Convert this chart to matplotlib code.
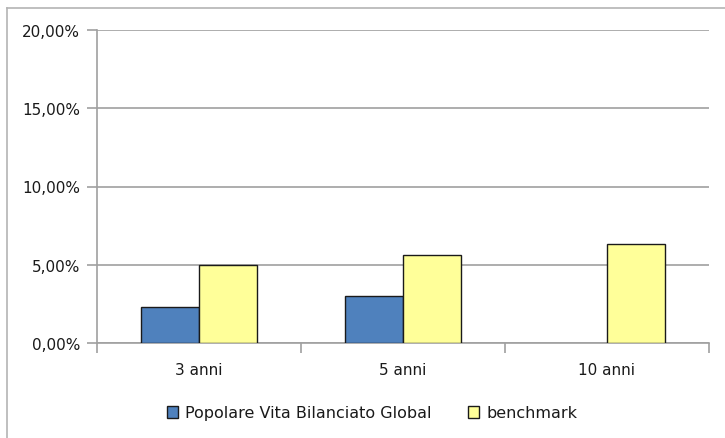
import matplotlib
matplotlib.use("Agg")
import matplotlib.pyplot as plt
from matplotlib.lines import Line2D
from matplotlib.ticker import FuncFormatter, MultipleLocator
import numpy as np

categories = ["3 anni", "5 anni", "10 anni"]
fund_name = "Popolare Vita Bilanciato Global"
bench_name = "benchmark"
fund_values = [2.30, 2.98, None]
bench_values = [4.98, 5.60, 6.35]

W, H = 725, 439
fig = plt.figure(figsize=(W / 100, H / 100), dpi=100)
ax = fig.add_axes([97 / W, 1 - 344 / H, (709 - 97) / W, (344 - 31) / H])

# figure outer border (top & left visible only)
fig.lines.append(Line2D([7 / W, 1.05], [1 - 9 / H, 1 - 9 / H], transform=fig.transFigure,
                        color="#b4b4b4", linewidth=1.2))
fig.lines.append(Line2D([7 / W, 7 / W], [-0.05, 1 - 9 / H], transform=fig.transFigure,
                        color="#b4b4b4", linewidth=1.2))

x = np.arange(len(categories))
width = 1 / 3.5
fv = [np.nan if v is None else v for v in fund_values]
ax.bar(x - width / 2, fv, width, color="#4F81BD", edgecolor="#1a1a1a",
       linewidth=1.0, label=fund_name, zorder=3)
ax.bar(x + width / 2, bench_values, width, color="#FFFF99", edgecolor="#1a1a1a",
       linewidth=1.0, label=bench_name, zorder=3)

ax.set_xlim(-0.5, 2.5)
ax.set_ylim(0, 20)
ax.yaxis.set_major_locator(MultipleLocator(5))
ax.yaxis.set_major_formatter(FuncFormatter(lambda v, p: f"{v:.2f}%".replace(".", ",")))
ax.set_xticks(x)
ax.set_xticklabels(categories)
ax.set_xticks([-0.5, 0.5, 1.5, 2.5], minor=True)
ax.tick_params(axis="x", which="major", length=0, pad=14)
ax.tick_params(axis="x", which="minor", length=7, color="#a0a0a0", width=1.2)
ax.tick_params(axis="y", length=7, color="#a0a0a0", width=1.2, pad=5)
for lab in ax.get_xticklabels() + ax.get_yticklabels():
    lab.set_fontsize(11)
    lab.set_color("#1a1a1a")

ax.grid(axis="y", color="#a0a0a0", linewidth=1.2, zorder=0)
ax.set_axisbelow(True)
for s in ["top", "right"]:
    ax.spines[s].set_visible(False)
for s in ["left", "bottom"]:
    ax.spines[s].set_color("#a0a0a0")
    ax.spines[s].set_linewidth(1.2)

leg = fig.legend(loc="center", bbox_to_anchor=(372 / W, 1 - 414 / H), ncol=2,
                 frameon=False, fontsize=11.5, handlelength=0.7, handleheight=0.7,
                 handletextpad=0.45, columnspacing=2.3)
for t in leg.get_texts():
    t.set_color("#1a1a1a")

fig.savefig("out.png", dpi=100)
